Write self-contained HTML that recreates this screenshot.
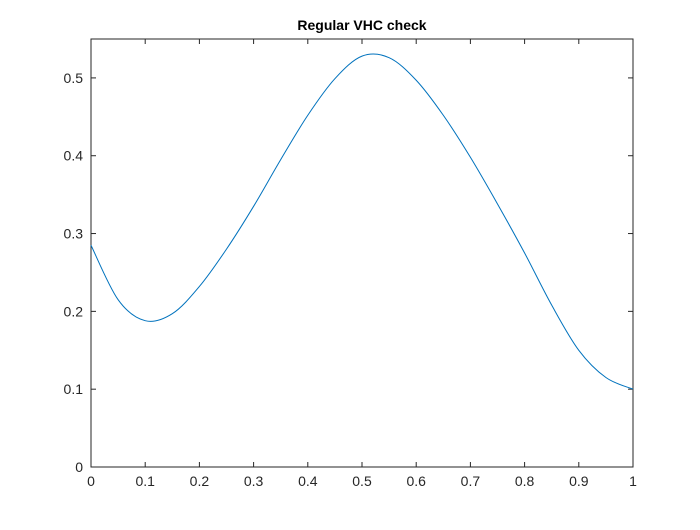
<!DOCTYPE html>
<html><head><meta charset="utf-8"><style>
body{margin:0;background:#fff;}
svg text{font-family:"Liberation Sans",Arial,sans-serif;fill:#262626;}
</style></head><body>
<svg id="chart" width="700" height="525" xmlns="http://www.w3.org/2000/svg">
<rect width="700" height="525" fill="#fff"/>
<text x="362" y="30" text-anchor="middle" font-size="14" font-weight="bold" style="fill:#000">Regular VHC check</text>
<g id="axes"></g>
<path id="curve" fill="none" stroke="#0072bd" stroke-width="1"/>
</svg>
<script>
const xs=[0,0.05,0.1,0.15,0.2,0.25,0.3,0.35,0.4,0.45,0.5,0.55,0.6,0.65,0.7,0.75,0.8,0.85,0.9,0.95,1.0];
const ys=[0.285,0.215,0.188,0.197,0.232,0.28,0.335,0.395,0.452,0.499,0.528,0.526,0.497,0.452,0.398,0.338,0.275,0.208,0.15,0.115,0.1];
const xTicks=[0,0.1,0.2,0.3,0.4,0.5,0.6,0.7,0.8,0.9,1];
const xTickLabels=["0","0.1","0.2","0.3","0.4","0.5","0.6","0.7","0.8","0.9","1"];
const yTicks=[0,0.1,0.2,0.3,0.4,0.5];
const yTickLabels=["0","0.1","0.2","0.3","0.4","0.5"];
const L=91,R=633,T=39,B=467,ymax=0.55;
const sx=v=>L+(R-L)*v, sy=v=>B-(B-T)*v/ymax;
const ns="http://www.w3.org/2000/svg";
const g=document.getElementById('axes');
function el(t,a){const e=document.createElementNS(ns,t);for(const k in a)e.setAttribute(k,a[k]);g.appendChild(e);return e;}
const box=el('rect',{x:L,y:T,width:R-L,height:B-T,fill:'none',stroke:'#262626','stroke-width':1});


xTicks.forEach((v,i)=>{const x=sx(v);
 el('line',{x1:x,y1:B,x2:x,y2:B-5,stroke:'#262626'});el('line',{x1:x,y1:T,x2:x,y2:T+5,stroke:'#262626'});
 const t=el('text',{x:x,y:B+19,'text-anchor':'middle','font-size':14});t.textContent=xTickLabels[i];
 
 });
yTicks.forEach((v,i)=>{const y=sy(v);
 el('line',{x1:L,y1:y,x2:L+5,y2:y,stroke:'#262626'});el('line',{x1:R,y1:y,x2:R-5,y2:y,stroke:'#262626'});
 const t=el('text',{x:L-8,y:y+5,'text-anchor':'end','font-size':14});t.textContent=yTickLabels[i];
 
 });
const P=xs.map((x,i)=>[sx(x),sy(ys[i])]);
let d='M'+P[0][0]+','+P[0][1];
for(let i=0;i<P.length-1;i++){const p0=P[Math.max(0,i-1)],p1=P[i],p2=P[i+1],p3=P[Math.min(P.length-1,i+2)];
 const c1=[p1[0]+(p2[0]-p0[0])/6,p1[1]+(p2[1]-p0[1])/6],c2=[p2[0]-(p3[0]-p1[0])/6,p2[1]-(p3[1]-p1[1])/6];
 d+=` C${c1[0]},${c1[1]} ${c2[0]},${c2[1]} ${p2[0]},${p2[1]}`;}
document.getElementById('curve').setAttribute('d',d);
</script>
</body></html>
